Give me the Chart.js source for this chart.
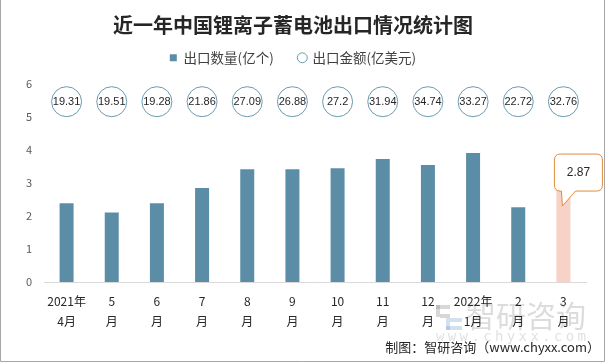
<!DOCTYPE html>
<html><head><meta charset="utf-8">
<script src="https://cdn.jsdelivr.net/npm/chart.js@4"></script>
<style>
html,body{margin:0;padding:0;background:#fff;}
#wrap{position:relative;width:606px;height:363px;}
#footer{position:absolute;right:6px;top:337px;font:13px "Noto Sans CJK SC","DejaVu Sans Mono",monospace;color:#262626;white-space:nowrap;}
</style></head>
<body><div id="wrap"><canvas id="c" width="606" height="363"></canvas>
<div id="footer">制图：智研咨询（www.chyxx.com）</div></div>
<script>
const categories = [["2021年","4月"],["5","月"],["6","月"],["7","月"],["8","月"],["9","月"],["10","月"],["11","月"],["12","月"],["2022年","1月"],["2","月"],["3","月"]];
const exportQty = [2.38, 2.10, 2.38, 2.84, 3.41, 3.41, 3.44, 3.72, 3.54, 3.90, 2.26, 2.87];
const exportAmount = ["19.31","19.51","19.28","21.86","27.09","26.88","27.2","31.94","34.74","33.27","22.72","32.76"];
const yTicks = [0,1,2,3,4,5,6];
const amountRowLevel = 5.45;

const barColor = '#5b8ea6', lastColor = '#f8d1c7', circleColor = '#6c9ab0';
const font = '"Noto Sans CJK SC", "Liberation Sans", sans-serif';

const legendFitPlugin = {
  id: 'legendFit',
  beforeInit(chart) {
    const fit = chart.legend.fit;
    chart.legend.fit = function () { fit.bind(chart.legend)(); this.height += 9; };
  }
};

const decoPlugin = {
  id: 'deco',
  beforeDraw(chart) {
    const ctx = chart.ctx;
    ctx.save();
    // watermark
    ctx.globalAlpha = 0.35;
    ctx.fillStyle = '#8c8c8c';
    ctx.fillRect(436, 305, 14, 4);
    ctx.fillRect(436, 305, 4, 12);
    ctx.fillRect(440, 314, 10, 4);
    ctx.fillStyle = '#7fa7d0';
    ctx.fillRect(446, 318, 16, 4);
    ctx.fillRect(446, 322, 4, 8);
    ctx.fillRect(446, 326, 16, 4);
    ctx.fillStyle = '#9a9a9a';
    ctx.font = '30px ' + font;
    ctx.textBaseline = 'middle';
    ctx.textAlign = 'left';
    ctx.fillText('智研咨询', 466, 316);
    ctx.globalAlpha = 0.3;
    ctx.font = '14px "DejaVu Sans Mono", monospace';
    const s = 'www.chyxx.com';
    for (let i = 0; i < s.length; i++) ctx.fillText(s[i], 436 + i * 11.8, 337);
    ctx.restore();
  },
  afterDatasetsDraw(chart) {
    const ctx = chart.ctx;
    ctx.save();
    // amount labels in circles
    const meta1 = chart.getDatasetMeta(1);
    ctx.fillStyle = '#262626';
    ctx.font = '11px "Liberation Sans", sans-serif';
    ctx.textAlign = 'center';
    ctx.textBaseline = 'middle';
    meta1.data.forEach((p, i) => ctx.fillText(exportAmount[i], p.x, p.y + 0.5));
    // callout for last bar
    const meta0 = chart.getDatasetMeta(0);
    const last = exportQty.length - 1;
    const b = meta0.data[last];
    const x = b.x, y = b.y;
    const L = x - 9, R = x + 39, T = y - 33, B = y + 4, r = 6;
    ctx.beginPath();
    ctx.moveTo(L + r, T);
    ctx.lineTo(R - r, T); ctx.quadraticCurveTo(R, T, R, T + r);
    ctx.lineTo(R, B - r); ctx.quadraticCurveTo(R, B, R - r, B);
    ctx.lineTo(x + 12, B); ctx.lineTo(x - 1, y + 19); ctx.lineTo(x - 2, B);
    ctx.lineTo(L + r, B); ctx.quadraticCurveTo(L, B, L, B - r);
    ctx.lineTo(L, T + r); ctx.quadraticCurveTo(L, T, L + r, T);
    ctx.closePath();
    ctx.fillStyle = '#fff'; ctx.fill();
    ctx.strokeStyle = '#e38b3a'; ctx.lineWidth = 1; ctx.stroke();
    ctx.fillStyle = '#262626';
    ctx.font = '12px "Liberation Sans", sans-serif';
    ctx.fillText(String(exportQty[last]), (L + R) / 2, (T + B) / 2);
    ctx.restore();
  },
  afterDraw(chart) {
    const ctx = chart.ctx;
    ctx.save();
    ctx.strokeStyle = '#a6a6a6'; ctx.lineWidth = 1;
    ctx.beginPath();
    ctx.moveTo(0.5, 0); ctx.lineTo(0.5, 361.5); ctx.lineTo(604.5, 361.5); ctx.lineTo(604.5, 0);
    ctx.stroke();
    ctx.restore();
  }
};

new Chart(document.getElementById('c'), {
  data: {
    labels: categories,
    datasets: [
      {
        type: 'bar', label: '出口数量(亿个)', data: exportQty,
        backgroundColor: exportQty.map((v, i) => i === exportQty.length - 1 ? lastColor : barColor),
        barPercentage: 0.31, categoryPercentage: 1, order: 2,
        pointStyle: 'rect'
      },
      {
        type: 'line', label: '出口金额(亿美元)', data: exportAmount.map(() => amountRowLevel),
        showLine: false, pointRadius: 15, pointHoverRadius: 15,
        pointBackgroundColor: '#fff', pointBorderColor: circleColor, pointBorderWidth: 1,
        borderColor: circleColor, backgroundColor: '#fff', order: 1,
        pointStyle: 'circle'
      }
    ]
  },
  options: {
    responsive: false, animation: false,
    layout: { padding: { left: 0, right: 20, top: 0, bottom: 0 } },
    plugins: {
      title: {
        display: true, text: '近一年中国锂离子蓄电池出口情况统计图',
        color: '#262626', font: { family: font, size: 20, weight: 'bold' },
        padding: { top: 13, bottom: 4 }
      },
      legend: {
        display: true,
        labels: {
          color: '#404040', font: { family: font, size: 13.5 },
          usePointStyle: true, boxWidth: 7, boxHeight: 7, padding: 10,
          generateLabels(chart) {
            return [
              { text: '出口数量(亿个)     ', fillStyle: barColor, strokeStyle: barColor, lineWidth: 0, pointStyle: 'rect', datasetIndex: 0, fontColor: '#404040' },
              { text: '出口金额(亿美元)', fillStyle: '#fff', strokeStyle: circleColor, lineWidth: 1, pointStyle: 'circle', datasetIndex: 1, fontColor: '#404040' }
            ];
          }
        }
      },
      tooltip: { enabled: false }
    },
    scales: {
      x: {
        grid: { display: false, drawTicks: false },
        border: { display: true, color: '#d9d9d9' },
        ticks: { color: '#262626', font: { family: font, size: 12, lineHeight: 1.7 }, padding: 9, maxRotation: 0, autoSkip: false },
        afterFit(s) { s.height = 81; }
      },
      y: {
        min: yTicks[0], max: yTicks[yTicks.length - 1],
        afterBuildTicks(s) { s.ticks = yTicks.map(v => ({ value: v })); },
        grid: { display: false, drawTicks: false },
        border: { display: false },
        ticks: { color: '#595959', font: { family: font, size: 11 }, padding: 12 },
        afterFit(s) { s.width = 44; }
      }
    }
  },
  plugins: [legendFitPlugin, decoPlugin]
});
</script></body></html>
